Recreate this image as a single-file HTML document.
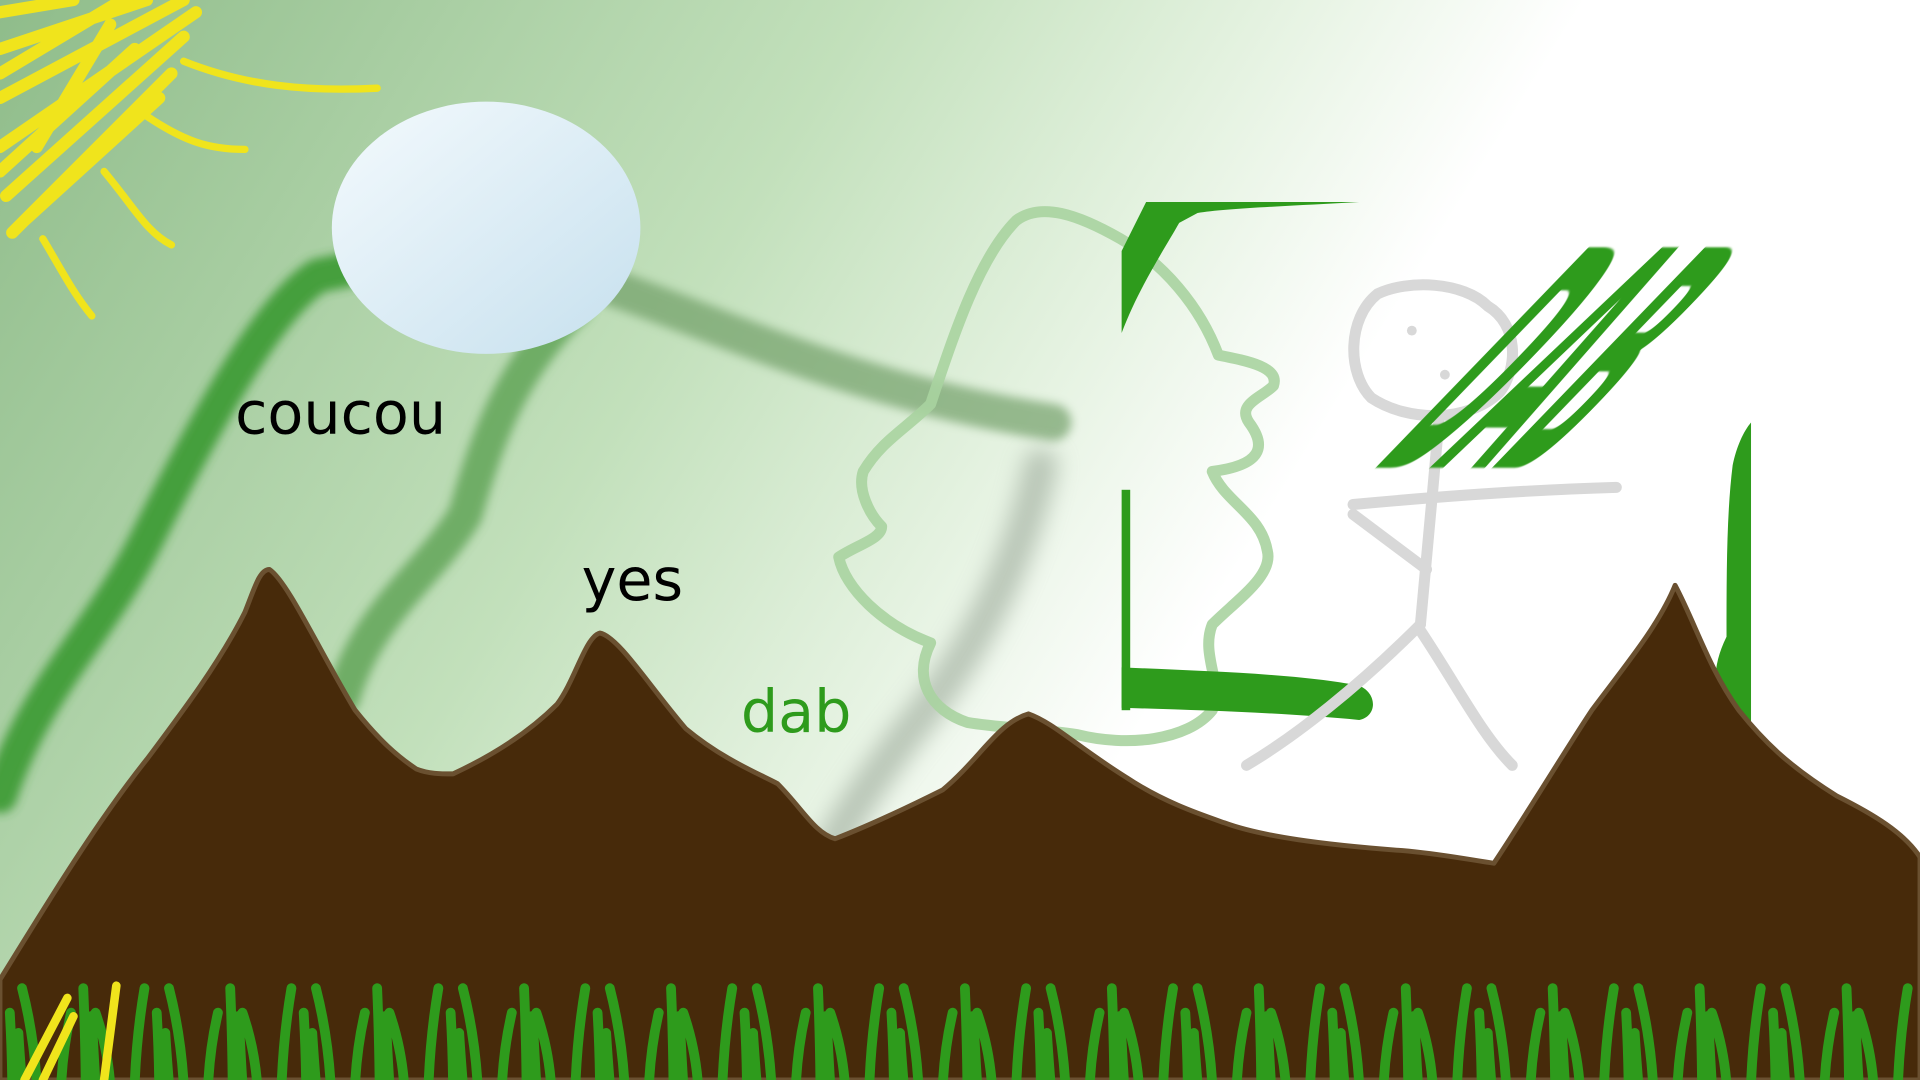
<!DOCTYPE html>
<html><head><meta charset="utf-8"><style>
html,body{margin:0;padding:0;width:1920px;height:1080px;overflow:hidden;background:#fff}
svg{display:block}
</style></head><body>
<svg width="1920" height="1080" viewBox="0 0 1568 882" preserveAspectRatio="none" xmlns="http://www.w3.org/2000/svg">
<defs>
<linearGradient id="bg" gradientUnits="userSpaceOnUse" x1="0" y1="0" x2="940" y2="578">
<stop offset="0" stop-color="#8fbc8a"/><stop offset="0.55" stop-color="#c2e0bb"/><stop offset="0.8" stop-color="#e4f2e0"/><stop offset="1" stop-color="#ffffff"/>
</linearGradient>
<linearGradient id="moon" x1="0" y1="0" x2="1" y2="1">
<stop offset="0" stop-color="#f4fafd"/><stop offset="1" stop-color="#c6e0ee"/>
</linearGradient>
<filter id="blur" x="-20%" y="-20%" width="140%" height="140%"><feGaussianBlur stdDeviation="4"/></filter>
<filter id="blur2" x="-20%" y="-20%" width="140%" height="140%"><feGaussianBlur stdDeviation="9"/></filter>
<filter id="soft" x="-5%" y="-5%" width="110%" height="110%"><feGaussianBlur stdDeviation="0.8"/></filter>
</defs>
<rect x="0" y="0" width="1568" height="882" fill="url(#bg)"/>

<g fill="none" stroke-linecap="round" stroke-linejoin="round">
<path d="M0,650 C30,560 80,520 120,440 C170,340 220,250 260,225 L310,215" stroke="#3a9a30" stroke-width="28" filter="url(#blur)" opacity="0.9"/>
<path d="M500,235 C600,270 700,320 860,345" stroke="#6a9a60" stroke-width="30" filter="url(#blur)" opacity="0.65"/>
<path d="M470,250 C420,300 400,350 380,420 C350,470 300,500 280,570" stroke="#4f9a44" stroke-width="28" filter="url(#blur)" opacity="0.7"/>
<path d="M850,380 C830,470 790,540 740,600 C710,640 690,670 680,690" stroke="#9aa898" stroke-width="28" filter="url(#blur2)" opacity="0.6"/>
</g>

<g fill="none" stroke="#f0e41c" stroke-linecap="round" stroke-width="6">
<path d="M0,10 L60,0 M0,40 L120,0 M0,80 L150,0 M0,120 L160,10 M5,160 L150,30 M10,190 L140,60 M0,60 L100,0 M20,180 L130,80 M0,140 L110,40 M30,120 L90,20" stroke-width="10"/>
<path d="M150,50 C200,70 250,75 308,72"/>
<path d="M120,95 C150,115 170,122 200,122"/>
<path d="M85,140 C110,170 120,190 140,200"/>
<path d="M35,195 C50,220 60,240 75,258"/>
</g>

<ellipse cx="397" cy="186" rx="126" ry="103" fill="url(#moon)"/>

<path fill="none" stroke="#a8d3a0" stroke-width="9" stroke-linejoin="round" stroke-linecap="round" opacity="0.9"
d="M760,330 C780,270 800,210 830,180 C850,165 880,175 915,195 C950,215 980,250 995,290 C1020,295 1045,300 1040,315 C1030,325 1010,330 1020,345 C1035,365 1030,380 990,385 C1000,410 1030,420 1035,450 C1040,470 1010,490 990,510 C980,535 1000,560 990,580 C970,605 920,610 880,600 C850,595 820,595 790,590 C760,580 745,555 760,525 C720,510 690,480 685,455 C700,445 720,440 720,430 C710,420 700,400 705,385 C720,360 740,350 760,330 Z"/>

<g fill="#2e9b1c">
<path d="M936,165 L1110,165 C1060,168 1000,170 978,174 L963,182 C950,205 930,235 916,272 L916,205 Z"/>
<rect x="916" y="400" width="7" height="180"/>
<path d="M916,545 C980,548 1060,550 1110,560 C1125,566 1125,585 1110,588 C1050,582 980,580 916,578 Z"/>
<path d="M1430,345 L1430,595 L1415,595 C1400,575 1395,550 1410,520 C1410,470 1410,420 1415,380 C1418,365 1424,352 1430,345 Z"/>
</g>

<g fill="none" stroke="#d8d8d8" stroke-width="9" stroke-linecap="round" stroke-linejoin="round">
<path d="M1125,240 C1150,228 1195,230 1215,250 C1240,265 1240,300 1225,320 C1200,345 1150,345 1120,325 C1100,305 1100,260 1125,240 Z"/>
<circle cx="1153" cy="270" r="4" fill="#d8d8d8" stroke="none"/>
<circle cx="1180" cy="306" r="4" fill="#d8d8d8" stroke="none"/>
<path d="M1175,345 C1170,400 1165,460 1160,510"/>
<path d="M1105,412 C1180,405 1250,400 1320,398"/>
<path d="M1105,420 L1165,465"/>
<path d="M1160,510 C1110,560 1060,600 1018,625"/>
<path d="M1160,515 C1190,560 1210,600 1235,625"/>
</g>

<text x="0" y="0" font-family="DejaVu Sans, sans-serif" font-weight="bold" font-size="247" fill="#2e9b1c" filter="url(#soft)" transform="translate(1118,382) skewX(-44) scale(0.24,1)">DAB</text>

<path fill="#472a0a" stroke="#6a5030" stroke-width="4" stroke-linejoin="round"
d="M0,800 C40,735 80,670 120,620 C150,580 180,540 200,500 C208,480 212,465 220,465 C235,475 260,530 290,580 C310,605 325,618 340,628 C350,632 360,632 370,632 C400,618 430,600 455,575 C470,555 478,520 490,517 C505,520 530,560 560,595 C590,620 620,632 635,640 C655,660 665,680 682,685 C700,678 730,665 770,645 C800,620 815,590 840,583 C860,590 880,610 920,635 C950,655 980,665 1000,672 C1030,683 1080,690 1150,695 C1180,698 1200,702 1220,705 C1250,660 1280,610 1300,580 C1330,540 1355,510 1368,478 C1385,510 1395,545 1420,580 C1440,605 1460,625 1500,650 C1530,665 1555,680 1568,700 L1568,882 L0,882 Z"/>

<g fill="none" stroke="#2e9b1c" stroke-width="8" stroke-linecap="round">
<path id="grassPath" d=""/>
</g>
<g fill="none" stroke="#f0e41c" stroke-width="7" stroke-linecap="round">
<path d="M20,882 L55,815 M35,882 L60,830 M85,882 L95,805"/>
</g>

<text x="192" y="354" font-family="DejaVu Sans, sans-serif" font-size="48" fill="#000">coucou</text>
<text x="475" y="490" font-family="DejaVu Sans, sans-serif" font-size="48" fill="#000">yes</text>
<text x="605" y="598" font-family="DejaVu Sans, sans-serif" font-size="48" fill="#2e9b1c">dab</text>
</svg>
<script>
// decorative grass strokes (not data)
var d='';
for(var x=10;x<1568;x+=20){
  var h=45+((x*37)%40);
  var lean=((x*13)%30)-12;
  d+='M'+x+',885 Q'+(x+lean*0.2)+','+(882-h*0.5)+' '+(x+lean)+','+(882-h)+' ';
  if((x/20)%3<1){d+='M'+(x+8)+',885 Q'+(x+8+lean)+','+(882-h*0.4)+' '+(x+8+lean*1.5)+','+(882-h*0.7)+' ';}
}
document.getElementById('grassPath').setAttribute('d',d);
</script>
</body></html>
